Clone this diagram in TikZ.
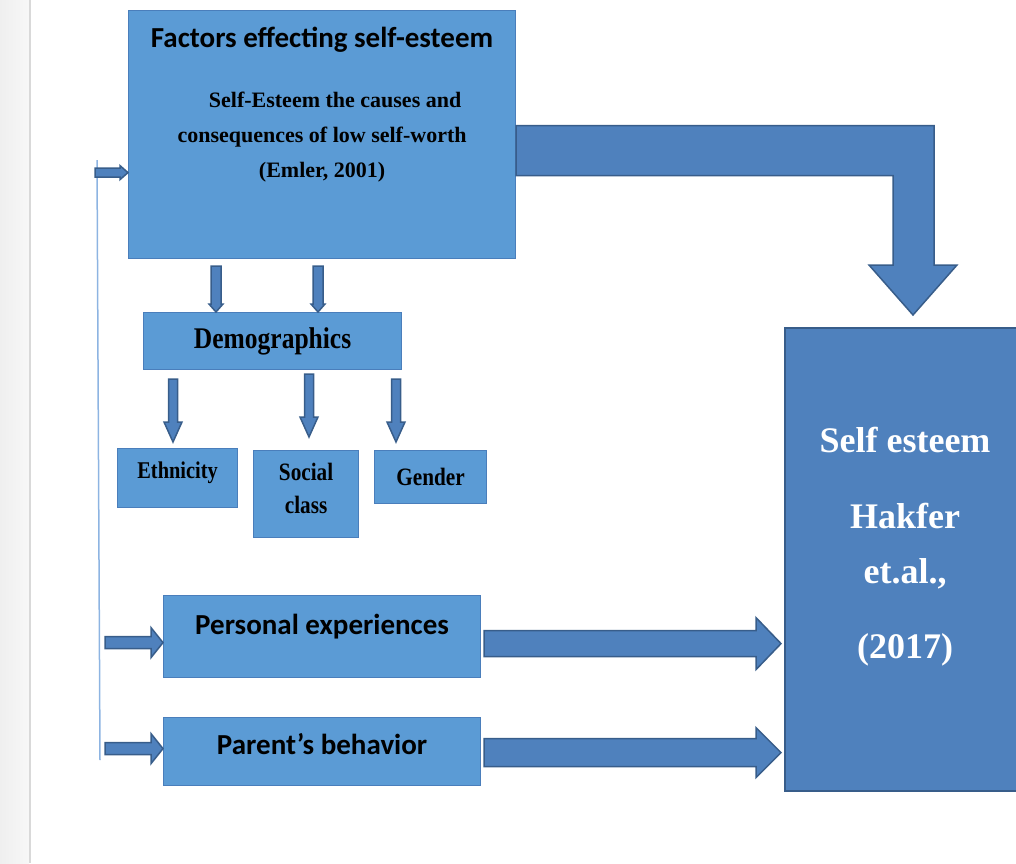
\documentclass[tikz,border=0pt]{standalone}
\usepackage{fontspec}
\setmainfont{Liberation Serif}
\newfontfamily\calibri{Carlito}
\newfontfamily\estrecha[FakeStretch=0.85]{Liberation Serif}
\usepackage{tikz}
\usetikzlibrary{positioning, calc}
\definecolor{azul}{HTML}{4F81BD}
\definecolor{azulborde}{HTML}{385D8A}
\definecolor{azulclaro}{HTML}{5B9BD5}
\definecolor{claroborde}{HTML}{4A7EBB}
\definecolor{linea}{HTML}{8DB4E2}
\definecolor{margen}{HTML}{EFEFEF}
\definecolor{margenlinea}{HTML}{D9D9D9}
\tikzset{
  caja/.style={rectangle, draw=claroborde, line width=1.2pt, fill=azulclaro,
    inner sep=0pt, anchor=north west, align=center},
  cajaoscura/.style={rectangle, draw=azulborde, line width=2pt, fill=azul,
    inner sep=0pt, anchor=north west},
  bloque/.style={draw=azulborde, line width=1.5pt, fill=azul, line join=miter}
}
% flecha de bloque horizontal: inicio, punta, media banda, media cabeza, largo cabeza
\newcommand{\flechaH}[5]{%
  \draw[bloque] ($(#1)+(0,#3)$) -- ($(#2)+(-#5,#3)$) -- ($(#2)+(-#5,#4)$) -- (#2)
    -- ($(#2)+(-#5,-#4)$) -- ($(#2)+(-#5,-#3)$) -- ($(#1)+(0,-#3)$) -- cycle;}
% flecha de bloque vertical (hacia abajo)
\newcommand{\flechaV}[5]{%
  \draw[bloque] ($(#1)+(#3,0)$) -- ($(#2)+(#3,-#5)$) -- ($(#2)+(#4,-#5)$) -- (#2)
    -- ($(#2)+(-#4,-#5)$) -- ($(#2)+(-#3,-#5)$) -- ($(#1)+(-#3,0)$) -- cycle;}

\begin{document}
\begin{tikzpicture}[x=1pt, y=-1pt]
  \useasboundingbox (0,0) rectangle (1016,863);

  % --- margen de la pagina ---
  \shade[left color=margen, right color=white!97!black] (0,0) rectangle (29,863);
  \draw[margenlinea, line width=2pt] (30,0) -- (30,863);

  % --- Factores ---
  \node[caja, minimum width=387, minimum height=248] (principal) at (128,10) {};
  \node[font=\calibri\bfseries\fontsize{29}{34}\selectfont] (titulo)
    at ($(principal.north)+(0,30)$) {Factors effecting self-esteem};
  \node[font=\bfseries\fontsize{22}{35}\selectfont, align=center] (obra)
    at ($(principal.north)+(0,127)$)
    {\hspace*{26pt}Self-Esteem the causes and\\ consequences of low self-worth\\ (Emler, 2001)};

  % --- Demographics ---
  \node[caja, minimum width=258, minimum height=57,
    font=\estrecha\bfseries\fontsize{30}{34}\selectfont] (demo) at (143,312) {Demographics};
  \node[caja, minimum width=120, minimum height=59, text depth=15pt,
    font=\estrecha\bfseries\fontsize{24}{28}\selectfont] (etnia) at (117,448) {Ethnicity};
  \node[caja, minimum width=105, minimum height=87, text depth=11pt,
    font=\estrecha\bfseries\fontsize{25}{33}\selectfont] (clase) at (253,450) {Social\\ class};
  \node[caja, minimum width=112, minimum height=53,
    font=\estrecha\bfseries\fontsize{25}{28}\selectfont] (genero) at (374,450) {Gender};

  % --- Experiencias y padres ---
  \node[caja, minimum width=317, minimum height=82, text depth=24pt,
    font=\calibri\bfseries\fontsize{29}{34}\selectfont] (personal) at (163,595) {Personal experiences};
  \node[caja, minimum width=317, minimum height=68, text depth=16pt,
    font=\calibri\bfseries\fontsize{29}{34}\selectfont] (padres) at (163,717) {Parent’s behavior};

  % --- Self esteem ---
  \node[cajaoscura, minimum width=240, minimum height=463] (autoestima) at (784,327) {};
  \node[font=\bfseries\fontsize{36}{55}\selectfont, text=white, align=center] (autor)
    at ($(autoestima.center)+(0,-13)$) {Self esteem\\[21pt] Hakfer\\ et.al.,\\[20pt] (2017)};

  % --- linea lateral ---
  \coordinate (lineaarriba) at (97,160);
  \coordinate (lineaabajo) at (100,760);
  \draw[linea, line width=1.5pt] (lineaarriba) -- (lineaabajo);

  % --- flechas ---
  \coordinate (e1) at ($(principal.west)+(-33,38)$);
  \flechaH{e1}{e1 -| principal.west}{4.5}{7}{8}
  \coordinate (e2) at ($(personal.west)+(-58,6)$);
  \flechaH{e2}{e2 -| personal.west}{6}{15}{12}
  \coordinate (e3) at ($(padres.west)+(-58,-3)$);
  \flechaH{e3}{e3 -| padres.west}{6}{15}{12}

  \coordinate (s1) at ($(personal.east)+(3,7)$);
  \flechaH{s1}{$(s1 -| autoestima.west)+(-3,0)$}{13}{26}{25}
  \coordinate (s2) at ($(padres.east)+(3,1)$);
  \flechaH{s2}{$(s2 -| autoestima.west)+(-3,0)$}{14}{25}{25}

  \coordinate (d1) at ($(principal.south west)+(88,7)$);
  \flechaV{d1}{d1 |- demo.north}{5}{7}{8}
  \coordinate (d2) at ($(principal.south west)+(190,7)$);
  \flechaV{d2}{d2 |- demo.north}{5}{7}{8}

  \coordinate (h1) at ($(demo.south west)+(30,9)$);
  \flechaV{h1}{$(h1 |- etnia.north)+(0,-6)$}{4.5}{9}{20}
  \coordinate (h2) at ($(demo.south west)+(166,4)$);
  \flechaV{h2}{$(h2 |- clase.north)+(0,-13)$}{4.5}{9}{20}
  \coordinate (h3) at ($(demo.south west)+(253,9)$);
  \flechaV{h3}{$(h3 |- genero.north)+(0,-8)$}{4.5}{9}{20}

  % --- flecha doblada hacia Self esteem ---
  \coordinate (ini) at ($(principal.east)+(0,16)$);
  \coordinate (fin) at ($(autoestima.north)+(8,-12)$);
  \draw[bloque] ($(ini)+(0,-25)$) -- ($(fin |- ini)+(21,-25)$) -- ($(fin)+(21,-50)$)
    -- ($(fin)+(44,-50)$) -- (fin) -- ($(fin)+(-44,-50)$) -- ($(fin)+(-20,-50)$)
    -- ($(fin |- ini)+(-20,25)$) -- ($(ini)+(0,25)$) -- cycle;

\end{tikzpicture}
\end{document}
